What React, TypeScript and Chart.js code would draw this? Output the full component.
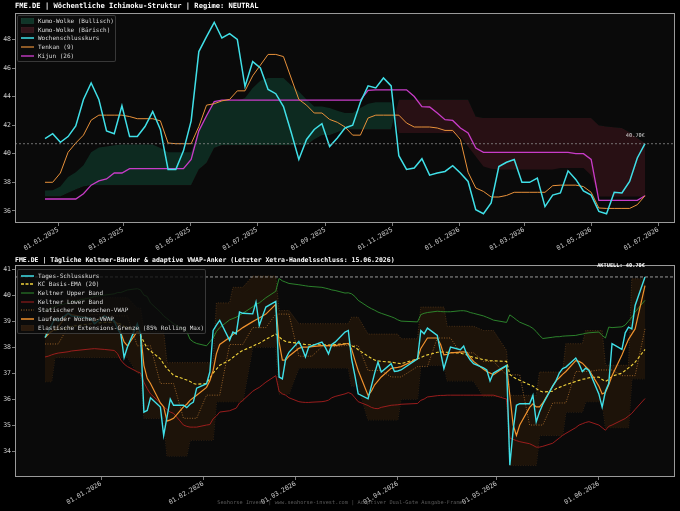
import React, { useEffect, useRef } from "react";
import { Chart, registerables } from "chart.js";

Chart.register(...registerables);

const MONO = "'DejaVu Sans Mono', 'Liberation Mono', monospace";

// ================= TOP: weekly Ichimoku =================
const WEEK_START = "2024-12-20";
const CLOSE_W = [
  41.05, 41.4, 40.8, 41.2, 41.95, 43.8, 44.95, 43.8, 41.6, 41.4,
  43.36, 41.2, 41.2, 41.9, 42.95, 41.7, 38.9, 38.9, 40.2, 42.3,
  47.15, 48.2, 49.2, 48.1, 48.4, 48.0, 44.7, 46.45, 46.0, 44.5,
  44.2, 43.3, 41.5, 39.6, 41.0, 41.7, 42.1, 40.5, 41.1, 41.8,
  42.0, 43.6, 44.75, 44.6, 45.3, 44.75, 39.86, 38.9, 39.0, 39.65,
  38.5, 38.65, 38.76, 39.16, 38.65, 38.06, 36.08, 35.8, 36.55, 39.1,
  39.4, 39.6, 38.0, 38.0, 38.3, 36.3, 37.1, 37.25, 38.8, 38.2,
  37.4, 37.1, 35.96, 35.8, 37.3, 37.25, 38.06, 39.7, 40.7,
];
const TENKAN = [
  38.0, 38.0, 38.65, 40.1, 40.75, 41.3, 42.35, 42.7, 42.7, 42.7,
  42.7, 42.6, 42.45, 42.45, 42.45, 42.3, 40.75, 40.7, 40.7, 40.7,
  41.9, 43.4, 43.5, 43.7, 43.8, 44.4, 44.4, 45.45, 46.2, 46.95,
  46.95, 46.8, 45.3, 43.8, 43.4, 42.85, 42.85, 42.4, 42.2, 41.87,
  41.3, 41.3, 42.5, 42.7, 42.7, 42.7, 42.7, 42.15, 41.87, 41.87,
  41.87, 41.8, 41.63, 41.63, 41.0, 38.7, 37.6, 37.36, 36.97, 36.97,
  37.08, 37.3, 37.3, 37.3, 37.3, 37.3, 37.76, 37.8, 37.8, 37.8,
  37.7, 37.3, 36.2, 36.17, 36.17, 36.17, 36.17, 36.43, 37.06,
];
const KIJUN = [
  36.83, 36.83, 36.83, 36.83, 36.83, 37.2, 37.8, 38.1, 38.23, 38.65,
  38.65, 38.95, 38.95, 38.95, 38.95, 38.95, 38.95, 38.95, 38.95, 39.6,
  41.6, 42.66, 43.65, 43.75, 43.75, 43.75, 43.75, 43.75, 43.75, 43.75,
  43.75, 43.75, 43.75, 43.75, 43.75, 43.75, 43.75, 43.75, 43.75, 43.75,
  43.75, 43.75, 44.43, 44.47, 44.47, 44.47, 44.47, 44.47, 44.0, 43.3,
  43.27, 42.85, 42.38, 42.33, 41.8, 41.45, 40.4, 40.1, 40.1, 40.1,
  40.1, 40.1, 40.1, 40.1, 40.1, 40.1, 40.1, 40.1, 40.1, 40.0,
  40.0, 39.6, 36.73, 36.73, 36.73, 36.73, 36.73, 36.73, 37.06,
];
const SPAN_A = [
  37.43, 37.45, 37.7, 38.37, 38.7, 39.2, 40.1, 40.44, 40.5, 40.6,
  40.65, 40.65, 40.65, 40.65, 40.65, 40.4, 40.1, 40.1, 40.1, 40.1,
  41.6, 42.7, 43.65, 43.7, 43.7, 43.7, 43.9, 44.6, 45.1, 45.3,
  45.3, 45.3, 44.8, 44.36, 43.8, 43.3, 43.3, 43.2, 43.0, 42.85,
  42.85, 43.2, 43.5, 43.6, 43.6, 43.6, 41.45, 41.45, 41.45, 41.45,
  41.45, 41.45, 41.45, 41.45, 41.2, 40.5, 39.8, 39.1, 38.95, 38.9,
  38.9, 38.9, 38.9, 38.9, 38.9, 38.9, 38.9, 39.0, 39.0, 39.0,
  39.0, 38.5, 37.0, 37.0, 37.0, 37.0, 37.0, 37.0, 37.0,
];
const SPAN_B = [
  37.0, 37.0, 37.0, 37.25, 37.5, 37.7, 37.8, 37.8, 37.8, 37.8,
  37.8, 37.8, 37.8, 37.8, 37.8, 37.8, 37.8, 37.8, 37.8, 37.8,
  38.9, 39.35, 40.4, 40.6, 40.6, 40.6, 40.6, 40.6, 40.6, 40.6,
  40.6, 40.6, 40.6, 40.6, 40.6, 41.0, 41.3, 41.3, 41.5, 41.7,
  41.7, 41.7, 41.7, 41.7, 41.7, 41.7, 43.78, 43.78, 43.78, 43.78,
  43.78, 43.78, 43.78, 43.78, 43.78, 43.78, 42.6, 42.5, 42.5, 42.5,
  42.5, 42.5, 42.5, 42.5, 42.5, 42.5, 42.5, 42.5, 42.5, 42.5,
  42.5, 42.5, 42.0, 41.9, 41.85, 41.8, 41.5, 41.1, 40.75,
];
const TOP_X_TICKS = [
  "2025-01-01", "2025-03-01", "2025-05-01", "2025-07-01", "2025-09-01",
  "2025-11-01", "2026-01-01", "2026-03-01", "2026-05-01", "2026-07-01",
];
const TOP_Y_TICKS = [36, 38, 40, 42, 44, 46, 48];
const TOP_Y_MIN = 35.15;
const TOP_Y_MAX = 49.85;
const CURRENT = 40.7;

// ================= BOTTOM: daily Keltner / VWAP =================
const TRADING_DAYS: [string, number[]][] = [
  ["2025-12", [15, 16, 17, 18, 19, 22, 23, 29, 30]],
  ["2026-01", [2, 5, 6, 7, 8, 9, 12, 13, 14, 15, 16, 19, 20, 21, 22, 23, 26, 27, 28, 29, 30]],
  ["2026-02", [2, 3, 4, 5, 6, 9, 10, 11, 12, 13, 16, 17, 18, 19, 20, 23, 24, 25, 26, 27]],
  ["2026-03", [2, 3, 4, 5, 6, 9, 10, 11, 12, 13, 16, 17, 18, 19, 20, 23, 24, 25, 26, 27, 30, 31]],
  ["2026-04", [1, 2, 7, 8, 9, 10, 13, 14, 15, 16, 17, 20, 21, 22, 23, 24, 27, 28, 29, 30]],
  ["2026-05", [4, 5, 6, 7, 8, 11, 12, 13, 14, 15, 18, 19, 20, 21, 22, 25, 26, 27, 28, 29]],
  ["2026-06", [1, 2, 3, 4, 5, 8, 9, 10, 11, 12, 15]],
];
const CLOSE_D = [
  38.37, 38.6, 38.85, 39.1, 39.0,
  39.3, 39.2,
  39.1, 38.9, 39.2,
  39.0, 38.7, 38.5, 37.6, 38.0,
  38.9, 38.5, 35.5, 35.56, 36.05,
  35.69, 34.6, 35.3, 36.0, 35.76,
  35.76, 35.67, 35.8, 35.88, 36.42,
  36.59, 37.04, 38.64, 38.85, 39.03,
  38.26, 38.58, 38.51, 39.35, 39.3,
  39.28, 39.73, 38.83, 39.2, 39.54,
  39.76, 36.85, 36.78, 37.55, 37.8,
  38.22, 37.96, 37.62, 38.0, 38.06,
  38.19, 38.0, 37.74, 38.1, 38.19,
  38.58, 38.64, 37.55, 36.9, 36.2,
  36.01, 36.5, 37.0, 37.42, 37.04,
  37.36, 37.06, 37.08, 37.12,
  37.55, 38.64, 38.51, 38.73,
  38.45, 37.8, 37.17, 37.6, 38.0,
  37.9, 38.04, 37.7, 37.5, 37.36,
  37.2, 37.12, 36.7, 37.0,
  37.29, 33.45, 34.8, 35.76, 35.82,
  35.82, 36.14, 35.12, 35.5, 35.8,
  36.5, 36.7, 37.0, 37.17, 37.23,
  37.58, 37.35, 37.06, 37.19, 37.1,
  36.2, 35.69, 36.3, 36.6, 38.13,
  37.91, 38.55, 38.77, 38.7, 39.6,
  40.7,
];
const KC_EMA = [
  38.5, 38.55, 38.6, 38.65, 38.68,
  38.75, 38.8,
  38.9, 38.92, 38.95,
  38.95, 38.93, 38.88, 38.8, 38.75,
  38.6, 38.45, 38.2, 37.95, 37.85,
  37.55, 37.35, 37.17, 37.05, 36.91,
  36.78, 36.73, 36.68, 36.6, 36.57,
  36.6, 36.8, 37.0, 37.15, 37.3,
  37.5, 37.6, 37.7, 37.8, 37.87,
  38.03, 38.1, 38.15, 38.22, 38.3,
  38.5, 38.4, 38.28, 38.22, 38.19,
  38.15, 38.12, 38.1, 38.09, 38.09,
  38.09, 38.09, 38.08, 38.09, 38.1,
  38.13, 38.14, 38.05, 38.0, 37.9,
  37.65, 37.57, 37.5, 37.47, 37.45,
  37.42, 37.4, 37.38, 37.36,
  37.55, 37.6, 37.66, 37.7,
  37.8, 37.81, 37.81, 37.8, 37.79,
  37.77, 37.73, 37.7, 37.65, 37.6,
  37.52, 37.5, 37.48, 37.47,
  37.45, 36.95, 36.85, 36.78, 36.72,
  36.55, 36.5, 36.4, 36.32, 36.27,
  36.3, 36.4, 36.45, 36.5, 36.55,
  36.68, 36.72, 36.76, 36.78, 36.82,
  36.85, 36.75, 36.68, 36.75, 36.88,
  37.0, 37.1, 37.2, 37.3, 37.42,
  37.91,
];
const KC_UPPER = [
  39.4, 39.45, 39.5, 39.55, 39.6,
  39.7, 39.75,
  39.9, 39.95, 40.0,
  40.05, 40.1, 40.1, 40.15, 40.2,
  40.25, 40.2, 40.0, 39.95, 39.7,
  39.35, 39.2, 39.1, 39.0, 38.9,
  38.68, 38.6, 38.3, 38.2, 38.14,
  38.05, 38.2, 38.35, 38.6, 38.75,
  39.05, 39.1, 39.15, 39.23, 39.3,
  39.55, 39.65, 39.7, 39.8, 39.9,
  40.15, 40.64, 40.55, 40.5, 40.45,
  40.4, 40.38, 40.36, 40.34, 40.33,
  40.3, 40.27, 40.24, 40.2, 40.18,
  40.08, 40.09, 40.05, 39.95, 39.8,
  39.55, 39.48, 39.42, 39.35, 39.3,
  39.17, 39.12, 39.05, 39.0,
  38.97, 39.25, 39.3, 39.33,
  39.38, 39.37, 39.36, 39.36, 39.36,
  39.4, 39.4, 39.38, 39.33, 39.3,
  39.2, 39.15, 39.1, 39.04,
  38.95, 39.24, 39.15, 39.05, 38.96,
  38.8, 38.72, 38.6, 38.45, 38.33,
  38.38, 38.4, 38.4, 38.42, 38.43,
  38.45, 38.48, 38.5, 38.53, 38.55,
  38.58, 38.45, 38.35, 38.77, 38.75,
  38.78, 38.85, 39.0, 39.15, 39.35,
  39.8,
];
const KC_LOWER = [
  37.62, 37.65, 37.7, 37.74, 37.77,
  37.82, 37.85,
  37.93, 37.94, 37.91,
  37.87, 37.75, 37.5, 37.35, 37.25,
  37.05, 37.0, 36.65, 36.4, 36.2,
  35.85, 35.7, 35.6, 35.5, 35.45,
  35.0, 34.95, 34.92, 34.92, 34.92,
  35.0, 35.02, 35.24, 35.35, 35.5,
  35.55, 35.6, 35.65, 35.85, 35.95,
  36.3, 36.38, 36.45, 36.55, 36.65,
  36.9, 36.3, 36.2, 36.15, 36.05,
  35.9, 35.88, 35.87, 35.87, 35.88,
  35.9, 35.92, 35.96, 36.05, 36.1,
  36.2, 36.25, 36.2, 36.05, 35.9,
  35.75, 35.68, 35.64, 35.63, 35.68,
  35.76, 35.77, 35.78, 35.8,
  35.83, 35.95, 36.0, 36.08,
  36.13, 36.14, 36.14, 36.15, 36.15,
  36.15, 36.15, 36.15, 36.15, 36.15,
  36.15, 36.15, 36.15, 36.15,
  36.0, 34.5, 34.45, 34.4, 34.36,
  34.28, 34.22, 34.15, 34.15, 34.18,
  34.3, 34.4, 34.5, 34.6, 34.68,
  34.9, 35.0, 35.05, 35.1, 35.13,
  35.0, 34.9, 34.8, 34.95, 35.0,
  35.19, 35.25, 35.35, 35.45, 35.6,
  36.02,
];
const VWAP_RUNNING = [
  38.37, 38.5, 38.6, 38.7, 38.78,
  39.3, 39.25,
  39.1, 39.0, 39.2,
  39.0, 38.9, 38.55, 38.2, 38.05,
  38.6, 38.55, 37.3, 36.8, 36.6,
  35.85, 35.7, 35.15, 35.2, 35.26,
  35.7, 35.8, 35.95, 36.05, 36.15,
  36.45, 36.7, 37.1, 37.75, 38.1,
  38.37, 38.48, 38.57, 38.66, 38.75,
  38.98, 39.05, 39.12, 39.2, 39.27,
  39.65, 38.2, 37.5, 37.5, 37.65,
  37.95, 38.0, 38.0, 38.0, 38.02,
  38.06, 38.06, 38.06, 38.06, 38.06,
  38.12, 38.14, 37.93, 37.5, 37.1,
  36.14, 36.3, 36.55, 36.7, 36.85,
  37.18, 37.2, 37.22, 37.25,
  37.55, 37.95, 38.15, 38.35,
  38.35, 38.1, 37.7, 37.72, 37.78,
  37.81, 37.82, 37.8, 37.6, 37.45,
  37.15, 37.06, 37.0, 36.93,
  37.28, 36.14, 35.0, 34.6, 35.0,
  35.68, 35.82, 35.7, 35.7, 35.85,
  36.5, 36.7, 36.82, 36.95, 37.06,
  37.48, 37.45, 37.38, 37.25, 37.12,
  36.5, 36.2, 36.25, 36.55, 36.9,
  37.7, 38.0, 38.3, 38.5, 38.7,
  40.37,
];
// one value per trading week (static previous-week VWAP)
const VWAP_STATIC_WEEKLY = [
  38.12, 38.78, 39.25, 39.2, 38.05, 36.6, 35.26, 36.15, 38.1, 38.75,
  39.27, 37.65, 38.02, 38.06, 37.1, 36.85, 37.25, 38.35, 37.78, 37.45,
  36.93, 35.0, 35.85, 37.06, 37.12, 36.9, 38.7,
];
const EXT_UPPER = [
  39.6, 39.6, 39.6, 39.6, 39.6,
  39.9, 39.9,
  39.9, 39.9, 39.9,
  39.9, 39.9, 39.9, 39.9, 39.9,
  39.5, 39.5, 38.6, 38.6, 38.6,
  38.6, 38.6, 37.4, 37.4, 37.4,
  37.4, 37.4, 37.4, 37.4, 37.4,
  37.4, 37.4, 37.4, 39.7, 39.7,
  39.7, 40.3, 40.3, 40.3, 40.3,
  40.73, 40.73, 40.73, 40.73, 40.73,
  40.73, 39.41, 39.41, 39.41, 39.41,
  38.9, 38.9, 38.9, 38.9, 38.9,
  38.9, 38.9, 38.9, 38.9, 38.9,
  38.9, 38.9, 39.15, 39.15, 39.15,
  38.5, 38.5, 38.5, 38.5, 38.5,
  38.5, 38.5, 38.5, 38.32,
  38.32, 39.54, 39.54, 39.54,
  39.54, 39.54, 39.54, 38.8, 38.8,
  38.8, 38.8, 38.8, 38.8, 38.8,
  38.64, 38.64, 38.64, 38.64,
  37.87, 36.14, 36.14, 36.14, 36.14,
  36.14, 36.14, 36.14, 37.04, 37.04,
  37.04, 37.04, 37.04, 37.04, 38.13,
  38.13, 38.13, 38.13, 38.64, 38.64,
  38.64, 38.64, 37.3, 37.3, 37.3,
  37.3, 37.3, 37.3, 40.63, 40.63,
  40.63,
];
const EXT_LOWER = [
  36.67, 36.67, 36.67, 37.6, 37.6,
  37.6, 37.6,
  37.6, 37.6, 37.6,
  37.6, 37.6, 37.6, 37.6, 37.6,
  37.0, 37.0, 35.26, 35.26, 35.26,
  35.26, 35.26, 33.81, 33.81, 33.81,
  33.81, 33.81, 34.42, 34.42, 34.42,
  34.42, 34.42, 34.42, 35.9, 35.9,
  35.9, 35.9, 35.9, 35.9, 35.9,
  38.0, 38.0, 38.0, 38.0, 38.0,
  38.0, 36.2, 36.2, 36.2, 36.2,
  37.2, 37.2, 37.2, 37.2, 37.2,
  37.2, 37.2, 37.2, 37.2, 37.2,
  37.2, 37.2, 36.5, 36.5, 36.5,
  35.2, 35.2, 35.2, 35.2, 35.2,
  35.2, 35.2, 35.2, 36.0,
  36.0, 37.3, 37.3, 37.3,
  37.3, 37.3, 37.3, 36.7, 36.7,
  36.7, 36.7, 36.7, 36.7, 36.7,
  36.1, 36.1, 36.1, 36.1,
  36.1, 33.45, 33.45, 33.45, 33.45,
  33.45, 33.45, 33.45, 34.6, 34.6,
  34.6, 34.6, 34.6, 34.6, 35.5,
  35.5, 35.5, 35.5, 35.9, 35.9,
  35.9, 35.9, 34.9, 34.9, 34.9,
  34.9, 34.9, 34.9, 36.78, 36.78,
  36.78,
];
const BOT_X_TICKS = ["2026-01-01", "2026-02-01", "2026-03-01", "2026-04-01", "2026-05-01", "2026-06-01"];
const BOT_Y_TICKS = [34, 35, 36, 37, 38, 39, 40, 41];
const BOT_Y_MIN = 33.0;
const BOT_Y_MAX = 41.16;

// ================= styles =================
const FIG_BG = "#000000";
const PLOT_BG = "#0a0a0a";
const SPINE = "#9a9a9a";
const TICK_TXT = "#d0d0d0";
const CYAN = "#40e0e8";
const TENKAN_C = "#e8913a";
const KIJUN_C = "#c83cc8";
const CLOUD_GREEN = "#0d2a20";
const CLOUD_RED = "#281014";
const ORANGE = "#f0922e";
const YELLOW = "#f2d43c";
const GREEN = "#2f8f2f";
const RED = "#a81e1e";
const DOT_BROWN = "#a0682a";
const EXT_FILL = "#1d1309";
const EXT_EDGE = "#5e3d1c";

// ================= helpers =================
const dayNum = (iso: string) => {
  const [y, m, d] = iso.split("-").map(Number);
  return Date.UTC(y, m - 1, d) / 86400000;
};
const fmtDay = (v: number) => {
  const dt = new Date(Math.round(v) * 86400000);
  const dd = String(dt.getUTCDate()).padStart(2, "0");
  const mm = String(dt.getUTCMonth() + 1).padStart(2, "0");
  return `${dd}.${mm}.${dt.getUTCFullYear()}`;
};
const WEEK_X = CLOSE_W.map((_, i) => dayNum(WEEK_START) + 7 * i);
const DAY_X = TRADING_DAYS.flatMap(([ym, days]) =>
  days.map((d) => dayNum(`${ym}-${String(d).padStart(2, "0")}`))
);
const VWAP_STATIC = DAY_X.map((x) => VWAP_STATIC_WEEKLY[Math.floor((x - DAY_X[0]) / 7)]);
const pts = (xs: number[], ys: number[]) => ys.map((y, i) => ({ x: xs[i], y }));
const padRange = (xs: number[]) => {
  const a = xs[0];
  const b = xs[xs.length - 1];
  const m = (b - a) * 0.05;
  return [a - m, b + m];
};

function axes(xs: number[], xTicks: string[], yTicks: number[], yMin: number, yMax: number, xAxisH: number) {
  const [xmin, xmax] = padRange(xs);
  const tickFont = { family: MONO, size: 6.5 };
  const grid = { display: true, drawOnChartArea: false, drawTicks: true, tickLength: 3, color: SPINE, lineWidth: 0.8 };
  return {
    x: {
      type: "linear",
      min: xmin,
      max: xmax,
      afterBuildTicks: (s: any) => {
        s.ticks = xTicks.map((t) => ({ value: dayNum(t) }));
      },
      ticks: {
        autoSkip: false,
        minRotation: 30,
        maxRotation: 30,
        padding: 0,
        color: TICK_TXT,
        font: tickFont,
        callback: (v: any) => fmtDay(Number(v)),
      },
      grid,
      border: { display: false },
      afterFit: (s: any) => {
        s.height = xAxisH;
        s.paddingLeft = 0;
        s.paddingRight = 0;
      },
    },
    y: {
      type: "linear",
      min: yMin,
      max: yMax,
      afterBuildTicks: (s: any) => {
        s.ticks = yTicks.map((v) => ({ value: v }));
      },
      ticks: { padding: 1, color: TICK_TXT, font: tickFont, callback: (v: any) => String(v) },
      grid,
      border: { display: false },
      afterFit: (s: any) => {
        s.width = 15;
        s.paddingTop = 0;
        s.paddingBottom = 0;
      },
    },
  };
}

function decorPlugin(cfg: {
  id: string;
  lineColor: string;
  dash: number[];
  label: string;
  labelFont: string;
  labelColor: string;
  labelDy: number;
  lastX: number;
  footer?: { text: string; y: number };
}) {
  return {
    id: cfg.id,
    beforeDraw(chart: any) {
      const { ctx, chartArea: a } = chart;
      ctx.save();
      ctx.fillStyle = PLOT_BG;
      ctx.fillRect(a.left, a.top, a.right - a.left, a.bottom - a.top);
      ctx.restore();
    },
    afterDatasetsDraw(chart: any) {
      const { ctx, chartArea: a, scales } = chart;
      const y = scales.y.getPixelForValue(CURRENT);
      ctx.save();
      ctx.strokeStyle = cfg.lineColor;
      ctx.lineWidth = 0.8;
      ctx.setLineDash(cfg.dash);
      ctx.beginPath();
      ctx.moveTo(a.left, y);
      ctx.lineTo(a.right, y);
      ctx.stroke();
      ctx.restore();
    },
    afterDraw(chart: any) {
      const { ctx, chartArea: a, scales, width } = chart;
      ctx.save();
      ctx.strokeStyle = SPINE;
      ctx.lineWidth = 1;
      ctx.strokeRect(a.left + 0.5, a.top + 0.5, a.right - a.left - 1, a.bottom - a.top - 1);
      const y = scales.y.getPixelForValue(CURRENT);
      const x = scales.x.getPixelForValue(cfg.lastX);
      ctx.font = cfg.labelFont;
      ctx.fillStyle = cfg.labelColor;
      ctx.textAlign = "right";
      ctx.textBaseline = "middle";
      ctx.fillText(cfg.label, x, y + cfg.labelDy);
      if (cfg.footer) {
        ctx.font = `5.3px ${MONO}`;
        ctx.fillStyle = "#5a5a5a";
        ctx.textAlign = "center";
        ctx.fillText(cfg.footer.text, width / 2, cfg.footer.y);
      }
      ctx.restore();
    },
  };
}

type LegendItem = { label: string; kind: "patch" | "line" | "dashed" | "dotted"; color: string; w?: number; edge?: string };

function Legend({ items, left, top, width, rowH }: { items: LegendItem[]; left: number; top: number; width: number; rowH: number }) {
  return (
    <div
      style={{
        position: "absolute",
        left,
        top,
        width,
        boxSizing: "border-box",
        padding: "1.5px 0 1.5px 0",
        background: "rgba(12,12,12,0.82)",
        border: "1px solid rgba(110,110,110,0.45)",
        borderRadius: 2,
      }}
    >
      {items.map((it) => (
        <div key={it.label} style={{ display: "flex", alignItems: "center", height: rowH }}>
          <svg width={13} height={6} style={{ display: "block", flex: "none", marginLeft: 3, marginRight: 4.5 }}>
            {it.kind === "patch" ? (
              <rect x={0.25} y={0.5} width={12.5} height={5} fill={it.color} stroke={it.edge || it.color} strokeWidth={0.5} />
            ) : (
              <line
                x1={0}
                y1={3}
                x2={13}
                y2={3}
                stroke={it.color}
                strokeWidth={it.w || 1}
                strokeDasharray={it.kind === "dashed" ? "3 1.5" : it.kind === "dotted" ? "1 1.5" : undefined}
              />
            )}
          </svg>
          <span style={{ fontFamily: MONO, fontSize: 6, color: "#dcdcdc", whiteSpace: "nowrap", lineHeight: "6px" }}>{it.label}</span>
        </div>
      ))}
    </div>
  );
}

const TOP_LEGEND: LegendItem[] = [
  { label: "Kumo-Wolke (Bullisch)", kind: "patch", color: "#103528", edge: "#1d4a3a" },
  { label: "Kumo-Wolke (Bärisch)", kind: "patch", color: "#33141a", edge: "#4a2228" },
  { label: "Wochenschlusskurs", kind: "line", color: CYAN, w: 1.5 },
  { label: "Tenkan (9)", kind: "line", color: TENKAN_C, w: 1.2 },
  { label: "Kijun (26)", kind: "line", color: KIJUN_C, w: 1.4 },
];
const BOT_LEGEND: LegendItem[] = [
  { label: "Tages-Schlusskurs", kind: "line", color: CYAN, w: 1.5 },
  { label: "KC Basis-EMA (20)", kind: "dashed", color: YELLOW, w: 1.4 },
  { label: "Keltner Upper Band", kind: "line", color: GREEN, w: 1 },
  { label: "Keltner Lower Band", kind: "line", color: RED, w: 1 },
  { label: "Statischer Vorwochen-VWAP", kind: "dotted", color: DOT_BROWN, w: 1 },
  { label: "Laufender Wochen-VWAP", kind: "line", color: ORANGE, w: 1.5 },
  { label: "Elastische Extensions-Grenze (85% Rolling Max)", kind: "patch", color: "#2a1a0d", edge: "#3a2614" },
];

export default function App() {
  const topRef = useRef<HTMLCanvasElement>(null);
  const botRef = useRef<HTMLCanvasElement>(null);

  useEffect(() => {
    const line = (label: string, xs: number[], ys: number[], color: string, w: number, order: number, extra: any = {}) => ({
      label,
      data: pts(xs, ys),
      borderColor: color,
      backgroundColor: color,
      borderWidth: w,
      pointRadius: 0,
      tension: 0,
      fill: false,
      order,
      ...extra,
    });

    const top = new Chart(topRef.current as HTMLCanvasElement, {
      type: "line",
      data: {
        datasets: [
          line("Wochenschlusskurs", WEEK_X, CLOSE_W, CYAN, 1.5, 1),
          line("Tenkan (9)", WEEK_X, TENKAN, TENKAN_C, 1, 2),
          line("Kijun (26)", WEEK_X, KIJUN, KIJUN_C, 1.3, 3),
          line("Span A", WEEK_X, SPAN_A, "rgba(0,0,0,0)", 0, 4, {
            fill: { target: "+1", above: CLOUD_GREEN, below: CLOUD_RED },
          }),
          line("Span B", WEEK_X, SPAN_B, "rgba(0,0,0,0)", 0, 5),
        ] as any,
      },
      options: {
        animation: false,
        responsive: false,
        devicePixelRatio: 1,
        layout: { padding: { left: 0, right: 5, top: 13, bottom: 0 } },
        plugins: { legend: { display: false }, tooltip: { enabled: false }, title: { display: false } },
        scales: axes(WEEK_X, TOP_X_TICKS, TOP_Y_TICKS, TOP_Y_MIN, TOP_Y_MAX, 27) as any,
      },
      plugins: [
        decorPlugin({
          id: "topDecor",
          lineColor: "#8a8a8a",
          dash: [2, 2],
          label: `${CURRENT.toFixed(2)}€`,
          labelFont: `5.3px ${MONO}`,
          labelColor: "#dddddd",
          labelDy: -8,
          lastX: WEEK_X[WEEK_X.length - 1],
        }),
      ],
    } as any);

    const bot = new Chart(botRef.current as HTMLCanvasElement, {
      type: "line",
      data: {
        datasets: [
          line("Tages-Schlusskurs", DAY_X, CLOSE_D, CYAN, 1.4, 1),
          line("Laufender Wochen-VWAP", DAY_X, VWAP_RUNNING, ORANGE, 1.2, 2),
          line("KC Basis-EMA (20)", DAY_X, KC_EMA, YELLOW, 1.1, 3, { borderDash: [3, 2] }),
          line("Keltner Upper Band", DAY_X, KC_UPPER, GREEN, 0.9, 4),
          line("Keltner Lower Band", DAY_X, KC_LOWER, RED, 0.9, 5),
          line("Statischer Vorwochen-VWAP", DAY_X, VWAP_STATIC, DOT_BROWN, 0.9, 6, { borderDash: [1, 1.5] }),
          line("Extension oben", DAY_X, EXT_UPPER, EXT_EDGE, 0.7, 7, {
            borderDash: [1, 1.5],
            fill: { target: "+1", above: EXT_FILL, below: EXT_FILL },
          }),
          line("Extension unten", DAY_X, EXT_LOWER, EXT_EDGE, 0.7, 8, { borderDash: [1, 1.5] }),
        ] as any,
      },
      options: {
        animation: false,
        responsive: false,
        devicePixelRatio: 1,
        layout: { padding: { left: 0, right: 5, top: 15, bottom: 0 } },
        plugins: { legend: { display: false }, tooltip: { enabled: false }, title: { display: false } },
        scales: axes(DAY_X, BOT_X_TICKS, BOT_Y_TICKS, BOT_Y_MIN, BOT_Y_MAX, 34) as any,
      },
      plugins: [
        decorPlugin({
          id: "botDecor",
          lineColor: "#bdbdbd",
          dash: [3, 2],
          label: `AKTUELL: ${CURRENT.toFixed(2)}€`,
          labelFont: `bold 5.3px ${MONO}`,
          labelColor: "#ffffff",
          labelDy: -11,
          lastX: DAY_X[DAY_X.length - 1],
          footer: { text: "Seahorse Invest | www.seahorse-invest.com | Adaptiver Dual-Gate Ausgabe-Frame", y: 253 },
        }),
      ],
    } as any);

    return () => {
      top.destroy();
      bot.destroy();
    };
  }, []);

  return (
    <div style={{ position: "fixed", left: 0, top: 0, width: 680, height: 511, background: FIG_BG, overflow: "hidden" }}>
      <canvas ref={topRef} width={680} height={250} style={{ position: "absolute", left: 0, top: 0, width: 680, height: 250 }} />
      <canvas ref={botRef} width={680} height={261} style={{ position: "absolute", left: 0, top: 250, width: 680, height: 261 }} />
      <div
        style={{
          position: "absolute",
          left: 15,
          top: 1,
          fontFamily: MONO,
          fontSize: 7.1,
          fontWeight: "bold",
          color: "#ffffff",
          whiteSpace: "nowrap",
          lineHeight: "10px",
        }}
      >
        FME.DE | Wöchentliche Ichimoku-Struktur | Regime: NEUTRAL
      </div>
      <div
        style={{
          position: "absolute",
          left: 15,
          top: 255,
          fontFamily: MONO,
          fontSize: 6.5,
          fontWeight: "bold",
          color: "#ffffff",
          whiteSpace: "nowrap",
          lineHeight: "10px",
        }}
      >
        FME.DE | Tägliche Keltner-Bänder &amp; adaptive VWAP-Anker (Letzter Xetra-Handelsschluss: 15.06.2026)
      </div>
      <Legend items={TOP_LEGEND} left={16.5} top={14.5} width={99.5} rowH={8.6} />
      <Legend items={BOT_LEGEND} left={16.5} top={269} width={189} rowH={8.65} />
    </div>
  );
}
